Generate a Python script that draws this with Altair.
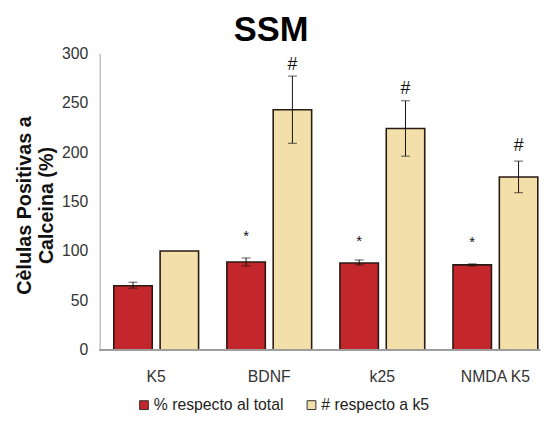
import altair as alt
import pandas as pd

categories = ["K5", "BDNF", "k25", "NMDA K5"]
series = ["% respecto al total", "# respecto a k5"]

red_values = [65, 89, 88, 86]
red_lo = [62.5, 85, 86, 85]
red_hi = [68.5, 93, 91, 87]
red_ann = [None, "*", "*", "*"]
red_ann_y = [None, 115, 110, 109]

tan_values = [100, 243, 224, 175]
tan_lo = [None, 209, 196, 159]
tan_hi = [None, 277, 252, 191]
tan_ann = [None, "#", "#", "#"]
tan_ann_y = [None, 288, 264, 206]

chart_title = ["SSM"]

rows = []
for i, c in enumerate(categories):
    rows.append(dict(cat=c, series=series[0], value=red_values[i], lo=red_lo[i], hi=red_hi[i],
                     ann=red_ann[i], anny=red_ann_y[i]))
    rows.append(dict(cat=c, series=series[1], value=tan_values[i], lo=tan_lo[i], hi=tan_hi[i],
                     ann=tan_ann[i], anny=tan_ann_y[i]))
df = pd.DataFrame(rows)

FONT = "Liberation Sans"

x = alt.X("cat:N", sort=categories,
          scale=alt.Scale(domain=categories, range=[0, 459], paddingInner=0, paddingOuter=0),
          axis=alt.Axis(title=None, domain=False, ticks=False, labelAngle=0, labelPadding=19,
                        labelFontSize=16, labelFont=FONT, labelColor="#333"))
xo = alt.XOffset("series:N", sort=series,
                 scale=alt.Scale(domain=series, paddingInner=0.17, paddingOuter=0.305))

y_axis = alt.Axis(values=[0, 50, 100, 150, 200, 250, 300], grid=False, ticks=False,
                  labelPadding=12, labelFontSize=16, labelFont=FONT, labelColor="#333",
                  domainColor="#a0a0a0", domainWidth=1,
                  title=["Cèlulas Positivas a", "Calceina (%)"], titleFont=FONT,
                  titleFontSize=20, titleFontWeight="bold", titleColor="#111",
                  titleX=-76, titleY=154, titleAngle=270, titleAlign="center",
                  titleBaseline="middle", titleLineHeight=22)

base = alt.Chart(df)

bars = base.mark_bar(stroke="#2a1a14", strokeWidth=1.6).encode(
    x=x, xOffset=xo,
    y=alt.Y("value:Q", scale=alt.Scale(domain=[0, 300], nice=False), axis=y_axis),
    color=alt.Color("series:N", sort=series,
                    scale=alt.Scale(domain=series, range=["#C3272B", "#F3DFA9"]),
                    legend=alt.Legend(title=None, orient="none", legendX=37, legendY=349,
                                      direction="horizontal", symbolType="square",
                                      symbolSize=80, symbolStrokeColor="#333",
                                      symbolStrokeWidth=1, labelFontSize=16, labelFont=FONT,
                                      labelColor="#222", labelOffset=2, columnPadding=20))
)

err = base.transform_filter("isValid(datum.lo)")
rules = err.mark_rule(color="#111", strokeWidth=1).encode(
    x=x, xOffset=xo, y="lo:Q", y2="hi:Q")
cap_lo = err.mark_tick(color="#111", size=9, thickness=1).encode(x=x, xOffset=xo, y="lo:Q")
cap_hi = err.mark_tick(color="#111", size=9, thickness=1).encode(x=x, xOffset=xo, y="hi:Q")

ann = base.transform_filter("isValid(datum.ann)")
stars = ann.transform_filter(alt.datum.series == series[0]).mark_text(
    fontSize=15, font=FONT, color="#111", baseline="middle").encode(
    x=x, xOffset=xo, y="anny:Q", text="ann:N")
hashes = ann.transform_filter(alt.datum.series == series[1]).mark_text(
    fontSize=18, font=FONT, color="#111", baseline="middle").encode(
    x=x, xOffset=xo, y="anny:Q", text="ann:N")

xline = alt.Chart(df).mark_rule(color="#a0a0a0", strokeWidth=1).encode(
    x=alt.value(0), x2=alt.value(447), y=alt.value(301))

title_mark = alt.Chart(pd.DataFrame({"t": chart_title})).mark_text(
    fontSize=35, fontWeight="bold", font=FONT, color="#000", align="center",
    baseline="alphabetic").encode(text="t:N", x=alt.value(174), y=alt.value(-13))

chart = alt.layer(bars, rules, cap_lo, cap_hi, stars, hashes, xline, title_mark).properties(
    width=450, height=301,
    padding={"left": 93, "top": 43, "right": 4, "bottom": 61},
    autosize=alt.AutoSizeParams(type="none"),
).configure_view(stroke=None)

chart.save("out.html", embed_options={"renderer": "svg", "actions": False})
